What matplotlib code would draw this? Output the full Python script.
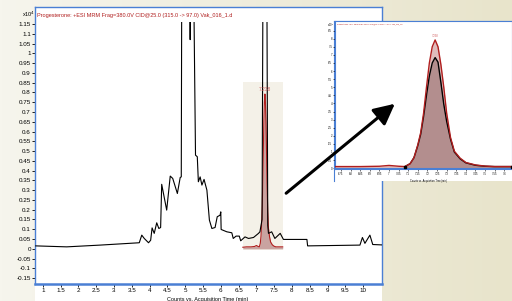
import numpy as np
import matplotlib.pyplot as plt
from matplotlib.patches import FancyArrowPatch
from matplotlib.transforms import Bbox, TransformedBbox

# Black chromatogram (counts x10^4)
tic_time = [0.80, 1.67, 2.61, 3.71, 3.78, 3.85, 3.97, 4.03, 4.07, 4.13, 4.20, 4.26,
            4.31, 4.34, 4.48, 4.58, 4.65, 4.78, 4.86, 4.89, 4.905, 5.12, 5.14, 5.16,
            5.23, 5.29, 5.34, 5.37, 5.42, 5.47, 5.53, 5.61, 5.68, 5.75, 5.84, 5.90,
            5.98, 6.00, 6.01, 6.17, 6.31, 6.35, 6.43, 6.52, 6.56, 6.68, 6.78, 6.92,
            7.06, 7.10, 7.16, 7.19, 7.24, 7.29, 7.32, 7.34, 7.43, 7.52, 7.67, 7.76,
            7.95, 8.42, 8.44, 9.91, 9.98, 10.05, 10.19, 10.27, 10.52]
tic_val = [0.015, 0.010, 0.019, 0.031, 0.070, 0.053, 0.031, 0.044, 0.107, 0.079, 0.133, 0.104,
           0.109, 0.330, 0.198, 0.372, 0.360, 0.283, 0.365, 0.368, 1.5, 1.5, 1.07, 1.5,
           1.5, 0.479, 0.471, 0.343, 0.368, 0.326, 0.355, 0.300, 0.147, 0.104, 0.109, 0.164,
           0.172, 0.189, 0.099, 0.087, 0.082, 0.053, 0.065, 0.065, 0.041, 0.061, 0.053, 0.058,
           0.079, 0.087, 0.15, 1.6, 1.7, 1.6, 0.12, 0.079, 0.087, 0.053, 0.079, 0.048,
           0.048, 0.048, 0.015, 0.019, 0.058, 0.028, 0.070, 0.022, 0.020]

# Progesterone MRM trace (red, counts x10^3)
red_time = [6.62, 6.72, 6.85, 6.95, 7.00, 7.05, 7.083, 7.11, 7.13, 7.15, 7.165, 7.18,
            7.195, 7.21, 7.225, 7.24, 7.255, 7.27, 7.285, 7.30, 7.32, 7.34, 7.37, 7.40,
            7.45, 7.50, 7.55, 7.64, 7.74]
red_val = [0.08, 0.10, 0.10, 0.12, 0.17, 0.12, 0.10, 0.28, 0.65, 1.45, 2.20, 3.40,
           5.00, 6.50, 7.50, 7.92, 7.50, 6.40, 5.00, 3.40, 1.90, 1.05, 0.62, 0.35,
           0.20, 0.13, 0.10, 0.10, 0.10]

# Second (black) trace shown in the zoomed inset, counts x10^3
blk_time = [7.083, 7.11, 7.13, 7.15, 7.165, 7.18, 7.195, 7.21, 7.225, 7.24, 7.255, 7.27,
            7.285, 7.30, 7.32, 7.34, 7.37, 7.40, 7.45, 7.50, 7.55, 7.64]
blk_val = [0.10, 0.28, 0.65, 1.40, 2.10, 3.20, 4.50, 5.70, 6.50, 6.83, 6.55, 5.30,
           3.95, 2.90, 1.80, 1.00, 0.58, 0.33, 0.18, 0.12, 0.10, 0.10]

peak_label = '7.238'
peak_rt = 7.24
highlight = (6.62, 7.74, -0.007, 0.855)
title = 'Progesterone: +ESI MRM Frag=380.0V CID@25.0 (315.0 -> 97.0) Vak_016_1.d'
xlabel = 'Counts vs. Acquisition Time (min)'

W, H = 512, 301
def px(x0, y0, x1, y1):
    return [x0 / W, 1 - y1 / H, (x1 - x0) / W, (y1 - y0) / H]

FONT = ['Liberation Sans Narrow', 'Liberation Sans', 'DejaVu Sans']
BLUE = '#4a7fd4'
RED = '#b01e1e'

fig = plt.figure(figsize=(5.12, 3.01), dpi=100)

# beige background gradient
bg = fig.add_axes([0, 0, 1, 1], zorder=-10)
g = np.linspace(0, 1, 256)[:, None]
left = np.array([246, 245, 237]) / 255
right = np.array([232, 228, 203]) / 255
bg.imshow((left * (1 - g) + right * g)[None, :, :], aspect='auto', extent=[0, 1, 0, 1])
bg.axis('off')

# white window behind the main chart
panel = fig.add_axes(px(35, 7, 382, 301), zorder=-5)
panel.set_facecolor('white')
panel.set_xticks([]); panel.set_yticks([])
for s in panel.spines.values():
    s.set_visible(False)

ax = fig.add_axes(px(35, 7, 382, 284), zorder=0)
ax.set_facecolor('white')
ax.set_xlim(0.78, 10.53)
ax.set_ylim(-0.18, 1.237)
x0, x1, y0, y1 = highlight
ax.fill_between([x0, x1], y0, y1, color='#f4f1e8', lw=0, zorder=1)
red_main = np.array(red_val) / 10
ax.fill_between(red_time, 0, red_main, color='#c9a3a0', lw=0, zorder=2)
ax.plot(red_time, red_main, color=RED, lw=0.8, zorder=3)
line, = ax.plot(tic_time, tic_val, color='black', lw=0.8, zorder=4)
line.set_clip_box(TransformedBbox(Bbox([[0.78, -0.18], [10.53, 1.16]]), ax.transData))
ax.text(peak_rt, 0.80, peak_label, color='#d06060', fontsize=3.5, ha='center', va='bottom',
        family=FONT, zorder=5)

yt = np.round(np.arange(-0.15, 1.1501, 0.05), 2)
ax.set_yticks(yt)
ax.set_yticklabels(['%g' % v for v in yt], family=FONT, fontsize=4.5)
xt = np.arange(1, 10.01, 0.5)
ax.set_xticks(xt)
ax.set_xticklabels(['%g' % v for v in xt], family=FONT, fontsize=4.5)
ax.tick_params(axis='both', direction='out', length=2, width=0.6, pad=1, color='black')
for s in ax.spines.values():
    s.set_color(BLUE)
    s.set_linewidth(1)
ax.spines['bottom'].set_linewidth(1.8)
fig.text(37 / W, 1 - 15 / H, title, color=RED, fontsize=4, family=FONT, va='center')
fig.text(22 / W, 1 - 14 / H, 'x10$^4$', fontsize=4, family=FONT, va='center')
fig.text(208 / W, 1 - 299 / H, xlabel, fontsize=4, family=FONT, ha='center', va='center')

# zoomed inset window
ipanel = fig.add_axes(px(334, 21, 512, 181), zorder=5)
ipanel.set_facecolor('white')
ipanel.set_xticks([]); ipanel.set_yticks([])
for k, s in ipanel.spines.items():
    s.set_visible(k in ('top', 'left'))
    s.set_color(BLUE)

ia = fig.add_axes(px(335, 21, 512, 169), zorder=6)
ia.set_facecolor('white')
ia.set_xlim(6.719, 7.64)
ia.set_ylim(-0.05, 9.09)
ia.fill_between(red_time, 0, red_val, color='#dfbcbb', lw=0, zorder=1)
ia.fill_between(blk_time, 0, blk_val, color='#b38e8e', lw=0, zorder=2)
ia.plot(blk_time, blk_val, color='black', lw=1.0, zorder=3)
ia.plot(red_time, red_val, color=RED, lw=1.0, zorder=4)
ia.plot([blk_time[0], blk_time[-1]], [blk_val[0], blk_val[-1]], 's', color='black', ms=1.5, zorder=5)
ia.text(peak_rt, 8.05, peak_label, color='#d06060', fontsize=2, ha='center', va='bottom', family=FONT)
iyt = np.round(np.arange(0, 8.51, 0.5), 2)
ia.set_yticks(iyt)
ia.set_yticklabels(['%g' % v for v in iyt], family=FONT, fontsize=2)
ixt = np.round(np.arange(6.75, 7.601, 0.05), 2)
ia.set_xticks(ixt)
ia.set_xticklabels(['%g' % v for v in ixt], family=FONT, fontsize=2)
ia.tick_params(axis='both', direction='out', length=1.2, width=0.4, pad=0.8, color='black')
for s in ia.spines.values():
    s.set_color(BLUE)
    s.set_linewidth(0.8)
ia.spines['bottom'].set_linewidth(1.5)
fig.text(337 / W, 1 - 24 / H, title, color=RED, fontsize=1.4, family=FONT, va='center', zorder=7)
fig.text(327 / W, 1 - 25 / H, 'x10$^3$', fontsize=1.8, family=FONT, va='center', zorder=7)
fig.text(428 / W, 1 - 181 / H, xlabel, fontsize=1.8, family=FONT, ha='center', va='center', zorder=7)

arrow = FancyArrowPatch((284 / W, 1 - 195 / H), (397 / W, 1 - 102 / H), transform=fig.transFigure,
                        arrowstyle='-|>,head_length=0.9,head_width=0.45', mutation_scale=14,
                        lw=2.2, color='black', zorder=10)
fig.add_artist(arrow)

fig.savefig('out.png', dpi=100)
